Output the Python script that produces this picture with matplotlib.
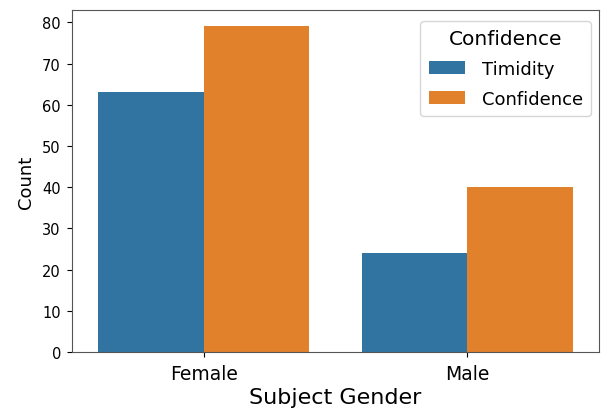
import matplotlib
matplotlib.use("Agg")
import matplotlib.pyplot as plt
import numpy as np

genders = ["Female", "Male"]
hue_levels = ["Timidity", "Confidence"]
timidity = [63, 24]
confidence = [79, 40]
colors = ["#3274a1", "#e1812c"]

fig = plt.figure(figsize=(6.05, 4.14), dpi=100)
ax = fig.add_axes([0.119, 0.147, 0.871, 0.826])

x = np.arange(len(genders))
w = 0.4
ax.bar(x - w / 2, timidity, w, color=colors[0], label=hue_levels[0])
ax.bar(x + w / 2, confidence, w, color=colors[1], label=hue_levels[1])

ax.set_xlim(-0.5, 1.5)
ax.set_ylim(0, max(confidence) * 1.05)
ax.set_xticks(x)
ax.set_xticklabels(genders, fontsize=13.5)
ax.set_yticks(np.arange(0, 81, 10))
ax.tick_params(axis="y", labelsize=10.5, pad=4.5)
ax.tick_params(axis="x", pad=5)
ax.set_xlabel("Subject Gender", fontsize=16, labelpad=3)
ax.set_ylabel("Count", fontsize=13, labelpad=5)
for s in ax.spines.values():
    s.set_color("#555555")

ax.legend(title="Confidence", loc="upper right",
          bbox_to_anchor=(0.985, 0.968), borderaxespad=0,
          fontsize=13, title_fontsize=14.5, frameon=True,
          labelspacing=0.65, borderpad=0.45, handletextpad=0.95)

fig.savefig("out.png", dpi=100)
